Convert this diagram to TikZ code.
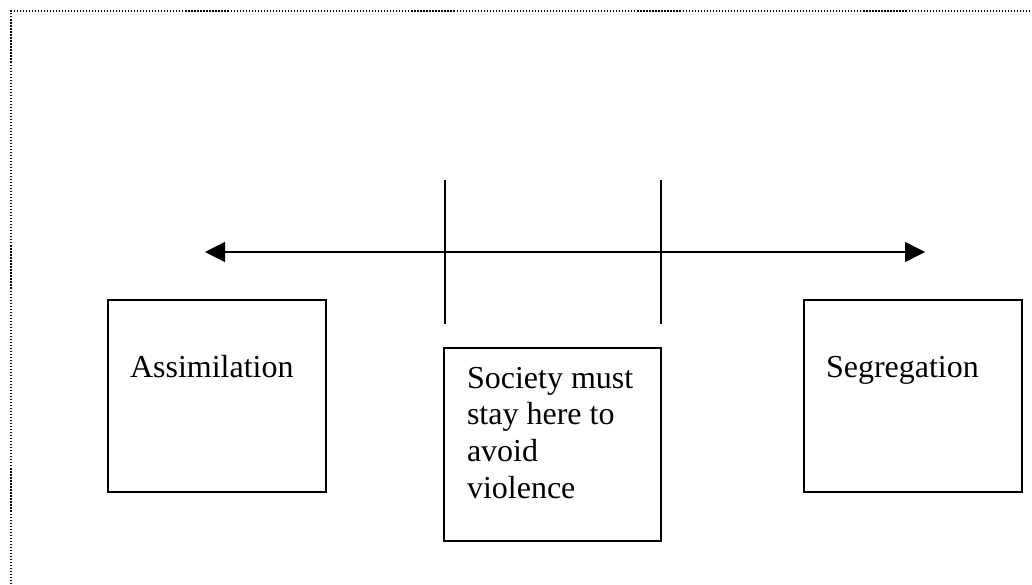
\documentclass[tikz,border=0pt]{standalone}
\usepackage{fontspec}
\setmainfont{Liberation Serif}
\usetikzlibrary{arrows.meta}

\tikzset{
  box/.style={draw, line width=0.5pt, outer sep=0pt, inner ysep=0pt,
              align=flush left, anchor=base west, font=\fontsize{12}{13.8}\selectfont},
  sidebox/.style={box, inner xsep=8.25pt, text width=65.25pt,
                  text height=28.875pt, text depth=43.125pt},
  midbox/.style={box, inner xsep=8.625pt, text width=64.125pt,
                 text height=15pt, text depth=57.375pt},
  axis/.style={line width=0.5pt, {Triangle[length=7.5pt,width=7.5pt]}-{Triangle[length=7.5pt,width=7.5pt]}},
  bar/.style={line width=0.5pt},
  frame/.style={line width=0.45pt, dash pattern=on 0.45pt off 0.68pt}
}

\begin{document}
\begin{tikzpicture}[x=0.375pt, y=-0.375pt]
                \useasboundingbox (0,0) rectangle (1032,584);
                % dotted frame, only top and left visible
                \draw[frame] (11,584) -- (11,11) -- (1032,11);
                % the scale
                \coordinate (leftend) at (205,252);
                \coordinate (rightend) at (925,252);
                \draw[axis] (leftend) -- (rightend);
                \coordinate (bar1top) at (445,180);
                \coordinate (bar1bot) at (445,324);
                \coordinate (bar2top) at (661,180);
                \coordinate (bar2bot) at (661,324);
                \draw[bar] (bar1top) -- (bar1bot);
                \draw[bar] (bar2top) -- (bar2bot);
                % the three boxes
                \node[sidebox] (assim) at (108,377) {Assimilation};
                \node[midbox] (middle) at (444,388) {Society must\\stay here to\\avoid\\violence};
                \node[sidebox] (segreg) at (804,377) {Segregation};
\end{tikzpicture}
\end{document}
